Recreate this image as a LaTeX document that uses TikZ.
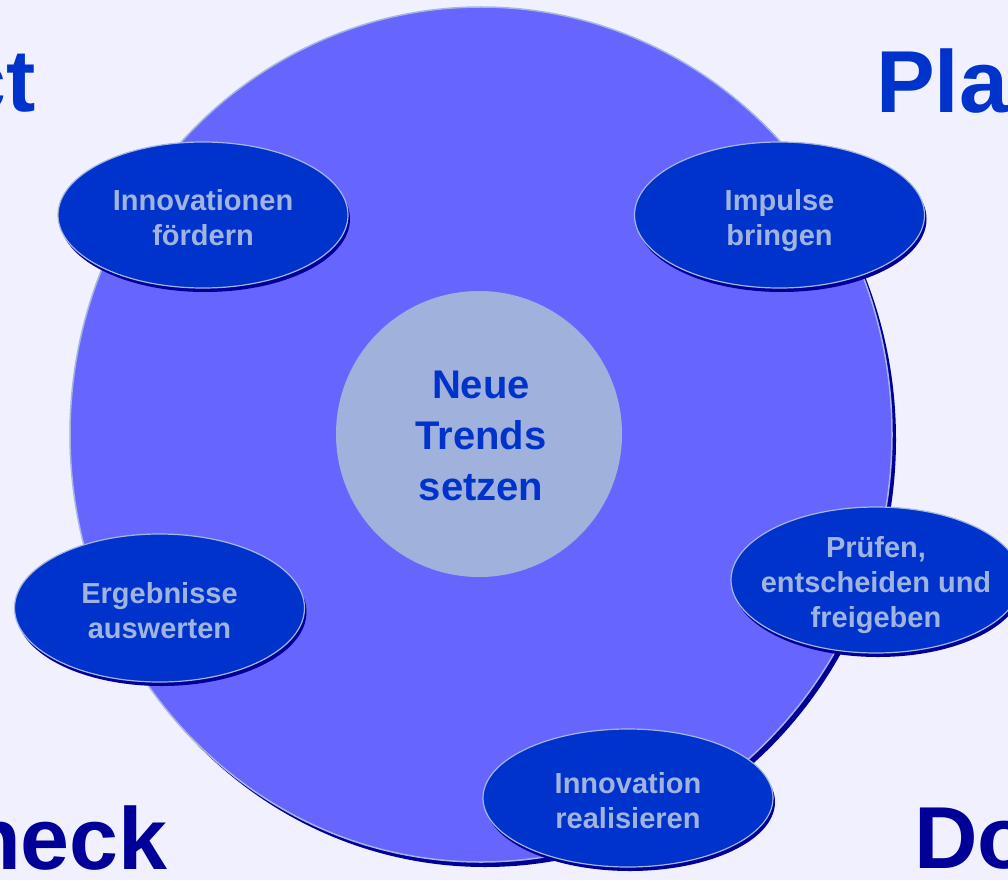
\documentclass[tikz,border=0pt]{standalone}
\usepackage{fontspec}
\setmainfont{Liberation Sans}
\usetikzlibrary{shapes.geometric,shadows}
\definecolor{bgc}{HTML}{F0F0FF}
\definecolor{bigc}{HTML}{6666FF}
\definecolor{rimc}{HTML}{A4B6E0}
\definecolor{navy}{HTML}{000099}
\definecolor{bluec}{HTML}{0033CC}
\definecolor{corec}{HTML}{A0B2DC}
\definecolor{txtc}{HTML}{A0B4E0}
\newcommand\topstrut{\rule{0pt}{0.94em}}
\newcommand\botstrut{\rule[-0.22em]{0pt}{0.22em}}
\begin{document}
\begin{tikzpicture}[x=1pt,y=-1pt,
  bigdisc/.style={ellipse, minimum width=822pt, minimum height=855pt, inner sep=0pt,
    fill=bigc, draw=rimc, line width=1.5pt,
    drop shadow={shadow xshift=4pt, shadow yshift=-5pt, fill=navy, opacity=1}},
  core/.style={circle, minimum size=286pt, inner sep=0pt, fill=corec},
  coretext/.style={inner sep=0pt, align=center, text=bluec,
    font=\fontsize{40}{51}\selectfont\bfseries},
  bubble/.style={ellipse, minimum width=290pt, minimum height=146pt, inner sep=0pt,
    fill=bluec, draw=rimc, line width=1.2pt,
    drop shadow={shadow xshift=2pt, shadow yshift=-4pt, fill=navy, opacity=1}},
  bubtext/.style={inner sep=0pt, align=center, text=txtc, yshift=-2.5pt,
    font=\fontsize{29}{35}\selectfont\bfseries},
  corner/.style={inner sep=0pt, font=\fontsize{88}{88}\selectfont\bfseries}
]
\useasboundingbox (0,0) rectangle (1008,880);
\clip (0,0) rectangle (1008,880);
\fill[bgc] (0,0) rectangle (1008,880);

\node[bigdisc] (disc) at (481,434.5) {};
\node[core] (core) at (479,434) {};
\node[coretext] (coret) at (481,435) {\topstrut Neue\\Trends\\setzen\botstrut};

\node[bubble] (b1) at (203,215) {};
\node[bubtext] (t1) at (b1) {\topstrut Innovationen\\fördern\botstrut};
\node[bubble] (b2) at (779.5,215) {};
\node[bubtext] (t2) at (b2) {\topstrut Impulse\\bringen\botstrut};
\node[bubble] (b3) at (876,580) {};
\node[bubtext] (t3) at (b3) {\topstrut Prüfen,\\entscheiden und\\freigeben\botstrut};
\node[bubble, minimum height=148pt] (b4) at (159.5,608) {};
\node[bubtext] (t4) at (b4) {\topstrut Ergebnisse\\auswerten\botstrut};
\node[bubble, minimum height=138pt] (b5) at (628,798) {};
\node[bubtext] (t5) at (b5) {\topstrut Innovation\\realisieren\botstrut};

\node[corner, text=bluec, anchor=base east] (act) at (36,112) {Act};
\node[corner, text=bluec, anchor=base west] (plan) at (876,113) {Plan};
\node[corner, text=navy, anchor=base east] (check) at (168,869) {Check};
\node[corner, text=navy, anchor=base west] (do) at (914,868) {Do};
\end{tikzpicture}
\end{document}
